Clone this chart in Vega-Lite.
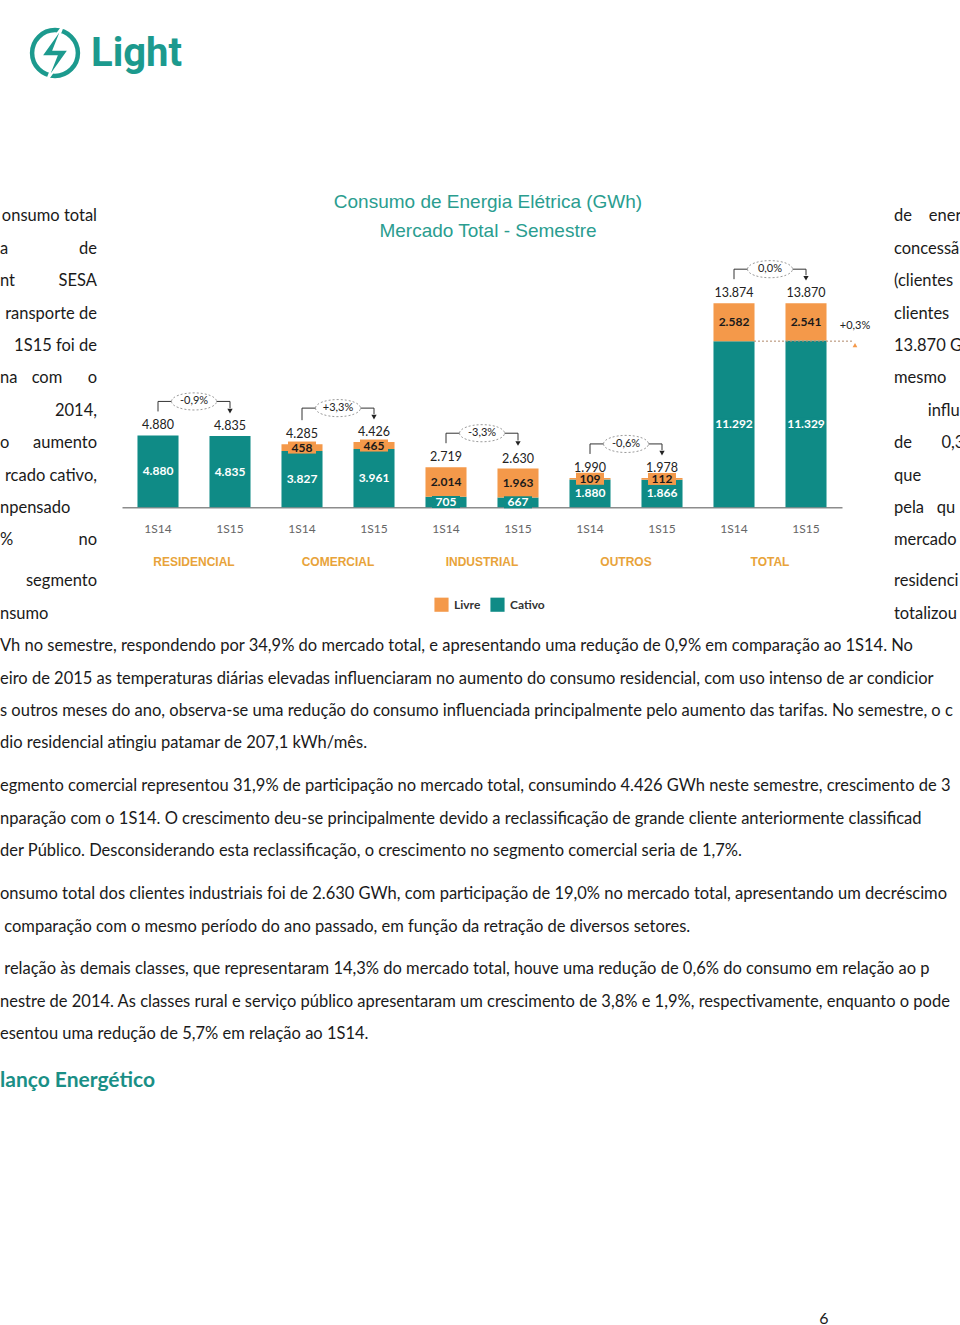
{
"$schema":"https://vega.github.io/schema/vega-lite/v6.json",
"padding":0,
"background":"white",
"config":{"view":{"stroke":null},"locale":{"number":{"decimal":",","thousands":".","grouping":[3],"currency":["R$ ",""]}},"text":{"font":"Lato"}},
"datasets":{
"vazio":[],
"barras":[
{"barra":"RESIDENCIAL|1S14","Cativo":4880,"Livre":0,"total":4880},
{"barra":"RESIDENCIAL|1S15","Cativo":4835,"Livre":0,"total":4835},
{"barra":"COMERCIAL|1S14","Cativo":3827,"Livre":458,"total":4285},
{"barra":"COMERCIAL|1S15","Cativo":3961,"Livre":465,"total":4426},
{"barra":"INDUSTRIAL|1S14","Cativo":705,"Livre":2014,"total":2719},
{"barra":"INDUSTRIAL|1S15","Cativo":667,"Livre":1963,"total":2630},
{"barra":"OUTROS|1S14","Cativo":1880,"Livre":109,"total":1990},
{"barra":"OUTROS|1S15","Cativo":1866,"Livre":112,"total":1978},
{"barra":"TOTAL|1S14","Cativo":11292,"Livre":2582,"total":13874},
{"barra":"TOTAL|1S15","Cativo":11329,"Livre":2541,"total":13870}
],
"grupos":[
{"grupo":"RESIDENCIAL","t14":4880,"t15":4835,"variacao":"-0,9%"},
{"grupo":"COMERCIAL","t14":4285,"t15":4426,"variacao":"+3,3%"},
{"grupo":"INDUSTRIAL","t14":2719,"t15":2630,"variacao":"-3,3%"},
{"grupo":"OUTROS","t14":1990,"t15":1978,"variacao":"-0,6%"},
{"grupo":"TOTAL","t14":13874,"t15":13870,"variacao":"0,0%"}
],
"cativo_total":[{"barra":"TOTAL|1S15","cativo14":11292,"variacao":"+0,3%"}],
"esq_a1":[
{"i":1,"l":"","r":"onsumo total"},
{"i":2,"l":"a","r":"de"}
],
"esq_a2":[
{"i":3,"l":"nt","r":"SESA"},
{"i":4,"l":"","r":"ransporte de"},
{"i":5,"l":"","r":"1S15 foi de"},
{"i":6,"l":"na","r":"com\u00a0\u00a0\u00a0\u00a0\u00a0\u00a0o"},
{"i":7,"l":"","r":"2014,"},
{"i":8,"l":"o","r":"aumento"},
{"i":9,"l":"","r":"rcado cativo,"},
{"i":10,"l":"npensado","r":""},
{"i":11,"l":"%","r":"no"}
],
"esq_b":[
{"i":1,"l":"","r":"segmento"},
{"i":2,"l":"nsumo","r":""}
],
"dir_a1":[
{"i":1,"t":"de\u00a0\u00a0\u00a0\u00a0ener"},
{"i":2,"t":"concessã"}
],
"dir_a2":[
{"i":3,"t":"(clientes"},
{"i":4,"t":"clientes"},
{"i":5,"t":"13.870 G"},
{"i":6,"t":"mesmo"},
{"i":7,"t":"\u200b\u00a0\u00a0\u00a0\u00a0\u00a0\u00a0\u00a0\u00a0influ"},
{"i":8,"t":"de\u00a0\u00a0\u00a0\u00a0\u00a0\u00a0\u00a00,3"},
{"i":9,"t":"que"},
{"i":10,"t":"pela\u00a0\u00a0\u00a0qu"},
{"i":11,"t":"mercado"}
],
"dir_b":[
{"i":1,"t":"residenci"},
{"i":2,"t":"totalizou"}
],
"p1":[
{"i":1,"t":"Vh no semestre, respondendo por 34,9% do mercado total, e apresentando uma redução de 0,9% em comparação ao 1S14. No"},
{"i":2,"t":"eiro de 2015 as temperaturas diárias elevadas influenciaram no aumento do consumo residencial, com uso intenso de ar condicior"},
{"i":3,"t":"s outros meses do ano, observa-se uma redução do consumo influenciada principalmente pelo aumento das tarifas. No semestre, o c"},
{"i":4,"t":"dio residencial atingiu patamar de 207,1 kWh/mês."}
],
"p2":[
{"i":1,"t":"egmento comercial representou 31,9% de participação no mercado total, consumindo 4.426 GWh neste semestre, crescimento de 3"},
{"i":2,"t":"nparação com o 1S14. O crescimento deu-se principalmente devido a reclassificação de grande cliente anteriormente classificad"},
{"i":3,"t":"der Público. Desconsiderando esta reclassificação, o crescimento no segmento comercial seria de 1,7%."}
],
"p3":[
{"i":1,"t":"onsumo total dos clientes industriais foi de 2.630 GWh, com participação de 19,0% no mercado total, apresentando um decréscimo"},
{"i":2,"t":"\u200b comparação com o mesmo período do ano passado, em função da retração de diversos setores."}
],
"p4":[
{"i":1,"t":"\u200b relação às demais classes, que representaram 14,3% do mercado total, houve uma redução de 0,6% do consumo em relação ao p"},
{"i":2,"t":"nestre de 2014. As classes rural e serviço público apresentaram um crescimento de 3,8% e 1,9%, respectivamente, enquanto o pode"},
{"i":3,"t":"esentou uma redução de 5,7% em relação ao 1S14."}
]
},
"columns":3,
"spacing":{"row":0,"column":25},
"bounds":"flush",
"concat":[
{"width":97,"height":200,"data":{"values":[{"marca":"Light"}]},
 "layer":[
  {"mark":{"type":"point","shape":"circle","x":55,"y":53,"size":2100,"filled":false,"stroke":"#1C9A8E","strokeWidth":4.5,"opacity":1},"encoding":{}},
  {"mark":{"type":"point","shape":"M0.3,-1L-0.5,0.12L0.05,0.12L-0.3,1L0.5,-0.12L-0.05,-0.12Z","x":55,"y":53,"size":3100,"filled":true,"fill":"#1C9A8E","stroke":"white","strokeWidth":2,"opacity":1},"encoding":{}},
  {"mark":{"type":"text","x":91,"y":54,"align":"left","baseline":"middle","font":"Roboto","fontWeight":"bold","fontSize":40,"color":"#1C9A8E"},"encoding":{"text":{"field":"marca"}}}
 ]},
{"width":747,"height":1,"data":{"name":"vazio"},"mark":{"type":"text"},"encoding":{"text":{"value":""}}},
{"width":66,"height":1,"data":{"name":"vazio"},"mark":{"type":"text"},"encoding":{"text":{"value":""}}},

{"width":97,"height":64.8,"data":{"name":"esq_a1"},
 "encoding":{"y":{"field":"i","type":"ordinal","scale":{"type":"band","paddingInner":0,"paddingOuter":0},"axis":null}},
 "layer":[
  {"mark":{"type":"text","x":0,"align":"left","baseline":"middle","fontSize":16.5,"font":"Lato","color":"#1a1a1a"},"encoding":{"text":{"field":"l"}}},
  {"mark":{"type":"text","x":"width","align":"right","baseline":"middle","fontSize":16.5,"font":"Lato","color":"#1a1a1a"},"encoding":{"text":{"field":"r"}}}
 ]},
{"width":747,"height":1,"data":{"name":"vazio"},"mark":{"type":"text"},"encoding":{"text":{"value":""}}},
{"width":66,"height":64.8,"data":{"name":"dir_a1"},
 "mark":{"type":"text","x":0,"align":"left","baseline":"middle","fontSize":16.5,"font":"Lato","color":"#1a1a1a","clip":true},
 "encoding":{"y":{"field":"i","type":"ordinal","scale":{"type":"band","paddingInner":0,"paddingOuter":0},"axis":null},"text":{"field":"t"}}},

{"width":97,"height":291.6,"data":{"name":"esq_a2"},
 "encoding":{"y":{"field":"i","type":"ordinal","scale":{"type":"band","paddingInner":0,"paddingOuter":0},"axis":null}},
 "layer":[
  {"mark":{"type":"text","x":0,"align":"left","baseline":"middle","fontSize":16.5,"font":"Lato","color":"#1a1a1a"},"encoding":{"text":{"field":"l"}}},
  {"mark":{"type":"text","x":"width","align":"right","baseline":"middle","fontSize":16.5,"font":"Lato","color":"#1a1a1a"},"encoding":{"text":{"field":"r"}}}
 ]},
{"width":720,"height":242.2,
 "title":{"text":["Consumo de Energia Elétrica (GWh)","Mercado Total - Semestre"],"font":"Liberation Sans","fontSize":19,"fontWeight":"normal","color":"#2A9D8F","lineHeight":29,"anchor":"middle","offset":18,"dx":6},
 "layer":[
  {"layer":[
    {"data":{"name":"barras"},
     "transform":[{"fold":["Cativo","Livre"],"as":["segmento","valor"]}],
     "layer":[
      {"mark":{"type":"bar"},
       "encoding":{
        "x":{"field":"barra","type":"nominal","sort":null,"title":null,"scale":{"paddingInner":0.43,"paddingOuter":0.215},
             "axis":{"labelExpr":"split(datum.value,'|')[1]","labelAngle":0,"ticks":false,"domainColor":"#8c8c8c","domainWidth":1.5,"labelPadding":16,"labelFontSize":12,"labelColor":"#666666","labelFont":"Lato"}},
        "y":{"field":"valor","type":"quantitative","stack":"zero","scale":{"domain":[0,16470],"nice":false},"axis":null},
        "color":{"field":"segmento","type":"nominal","scale":{"domain":["Livre","Cativo"],"range":["#F4994A","#0F8B86"]},
                 "legend":{"orient":"none","legendX":434,"legendY":597,"direction":"horizontal","title":null,"symbolType":"square","symbolSize":200,"symbolStrokeWidth":0,"labelFont":"Lato","labelFontSize":12,"labelFontWeight":"bold","labelColor":"#333333","columnPadding":9,"labelOffset":5}},
        "order":{"field":"segmento","sort":"ascending"}}},
      {"transform":[{"filter":"datum.valor > 0"},{"stack":"valor","groupby":["barra"],"sort":[{"field":"segmento","order":"ascending"}],"as":["v0","v1"]},{"calculate":"(datum.v0+datum.v1)/2","as":"vm"}],
       "encoding":{"x":{"field":"barra","type":"nominal","sort":null,"title":null},"y":{"field":"vm","type":"quantitative","scale":{"domain":[0,16470],"nice":false},"axis":null}},
       "layer":[
        {"mark":{"type":"point","shape":"M-1,-0.43H1V0.43H-1Z","size":784,"filled":true,"opacity":1,"strokeWidth":0},
         "encoding":{"fill":{"condition":{"test":"datum.segmento == 'Cativo'","value":"#0F8B86"},"value":"#F4994A"}}},
        {"mark":{"type":"text","fontWeight":"bold","fontSize":12,"baseline":"middle","font":"Lato"},
         "encoding":{"text":{"field":"valor","type":"quantitative","format":",.0f"},"color":{"condition":{"test":"datum.segmento == 'Cativo'","value":"#ffffff"},"value":"#1a1a1a"}}}
       ]},
      {"transform":[{"filter":"datum.segmento == 'Cativo'"}],
       "mark":{"type":"text","baseline":"bottom","dy":-3,"fontSize":12.5,"color":"#222222","font":"Lato"},
       "encoding":{"x":{"field":"barra","type":"nominal","sort":null,"title":null},"y":{"field":"total","type":"quantitative","scale":{"domain":[0,16470],"nice":false},"axis":null},"text":{"field":"total","type":"quantitative","format":",.0f"}}}
     ]},
    {"data":{"name":"cativo_total"},
     "encoding":{"x":{"field":"barra","type":"nominal","sort":null,"title":null,"bandPosition":0.5},"y":{"field":"cativo14","type":"quantitative","scale":{"domain":[0,16470],"nice":false},"axis":null}},
     "layer":[
      {"mark":{"type":"rule","xOffset":-52,"x2Offset":48,"strokeDash":[2,2],"color":"#B08868","strokeWidth":1},"encoding":{"x2":{"field":"barra","bandPosition":0.5}}},
      {"mark":{"type":"point","shape":"triangle-up","xOffset":49,"yOffset":4,"size":22,"filled":true,"color":"#F4994A","opacity":1},"encoding":{}},
      {"mark":{"type":"text","xOffset":49,"yOffset":-15,"fontSize":11,"color":"#222222","font":"Lato","baseline":"middle"},"encoding":{"text":{"field":"variacao"}}}
     ]}
   ]},
  {"data":{"name":"grupos"},
   "transform":[{"calculate":"max(datum.t14, datum.t15)","as":"tmax"}],
   "encoding":{"x":{"field":"grupo","type":"nominal","sort":null,"title":null,"bandPosition":0.5,"scale":{"paddingInner":0,"paddingOuter":0},
                    "axis":{"orient":"bottom","offset":49,"domain":false,"ticks":false,"labelPadding":0,"labelAngle":0,"labelFont":"Liberation Sans","labelFontWeight":"bold","labelFontSize":12,"labelColor":"#E8A33A"}}},
   "layer":[
    {"mark":{"type":"rule","xOffset":-36,"yOffset":-34,"y2Offset":-24,"color":"#333333","strokeWidth":1},
     "encoding":{"y":{"field":"tmax","type":"quantitative","scale":{"domain":[0,16470],"nice":false},"axis":null},"y2":{"field":"t14"}}},
    {"mark":{"type":"rule","xOffset":-36,"x2Offset":36,"yOffset":-34,"color":"#333333","strokeWidth":1},
     "encoding":{"x2":{"field":"grupo","bandPosition":0.5},"y":{"field":"tmax","type":"quantitative","scale":{"domain":[0,16470],"nice":false},"axis":null}}},
    {"mark":{"type":"rule","xOffset":36,"yOffset":-34,"y2Offset":-28,"color":"#333333","strokeWidth":1},
     "encoding":{"y":{"field":"tmax","type":"quantitative","scale":{"domain":[0,16470],"nice":false},"axis":null},"y2":{"field":"t15"}}},
    {"mark":{"type":"point","shape":"triangle-down","xOffset":36,"yOffset":-25,"size":28,"filled":true,"color":"#222222","opacity":1},
     "encoding":{"y":{"field":"t15","type":"quantitative","scale":{"domain":[0,16470],"nice":false},"axis":null}}},
    {"mark":{"type":"point","shape":"M-1,0A1,0.38,0,1,0,1,0A1,0.38,0,1,0,-1,0Z","yOffset":-34,"size":2025,"filled":true,"fill":"white","stroke":"#9a9a9a","strokeWidth":1,"strokeDash":[2,2],"opacity":1},
     "encoding":{"y":{"field":"tmax","type":"quantitative","scale":{"domain":[0,16470],"nice":false},"axis":null}}},
    {"mark":{"type":"text","yOffset":-34,"fontSize":11,"color":"#222222","baseline":"middle","font":"Lato"},
     "encoding":{"y":{"field":"tmax","type":"quantitative","scale":{"domain":[0,16470],"nice":false},"axis":null},"text":{"field":"variacao"}}}
   ]}
 ],
 "resolve":{"scale":{"x":"independent"},"axis":{"x":"independent"}}},
{"width":66,"height":291.6,"data":{"name":"dir_a2"},
 "mark":{"type":"text","x":0,"align":"left","baseline":"middle","fontSize":16.5,"font":"Lato","color":"#1a1a1a","clip":true},
 "encoding":{"y":{"field":"i","type":"ordinal","scale":{"type":"band","paddingInner":0,"paddingOuter":0},"axis":null},"text":{"field":"t"}}},

{"width":97,"height":73,"data":{"name":"esq_b"},
 "encoding":{"y":{"field":"i","type":"ordinal","scale":{"type":"band","paddingInner":0,"paddingOuter":0.1265,"align":1},"axis":null}},
 "layer":[
  {"mark":{"type":"text","x":0,"align":"left","baseline":"middle","fontSize":16.5,"font":"Lato","color":"#1a1a1a"},"encoding":{"text":{"field":"l"}}},
  {"mark":{"type":"text","x":"width","align":"right","baseline":"middle","fontSize":16.5,"font":"Lato","color":"#1a1a1a"},"encoding":{"text":{"field":"r"}}}
 ]},
{"width":747,"height":1,"data":{"name":"vazio"},"mark":{"type":"text"},"encoding":{"text":{"value":""}}},
{"width":66,"height":73,"data":{"name":"dir_b"},
 "mark":{"type":"text","x":0,"align":"left","baseline":"middle","fontSize":16.5,"font":"Lato","color":"#1a1a1a","clip":true},
 "encoding":{"y":{"field":"i","type":"ordinal","scale":{"type":"band","paddingInner":0,"paddingOuter":0.1265,"align":1},"axis":null},"text":{"field":"t"}}},

{"width":97,"height":129.6,"data":{"name":"p1"},
 "mark":{"type":"text","x":0,"align":"left","baseline":"middle","fontSize":16.5,"font":"Lato","color":"#1a1a1a"},
 "encoding":{"y":{"field":"i","type":"ordinal","scale":{"type":"band","paddingInner":0,"paddingOuter":0},"axis":null},"text":{"field":"t"}}},
{"width":747,"height":1,"data":{"name":"vazio"},"mark":{"type":"text"},"encoding":{"text":{"value":""}}},
{"width":66,"height":1,"data":{"name":"vazio"},"mark":{"type":"text"},"encoding":{"text":{"value":""}}},

{"width":97,"height":107.2,"data":{"name":"p2"},
 "mark":{"type":"text","x":0,"align":"left","baseline":"middle","fontSize":16.5,"font":"Lato","color":"#1a1a1a"},
 "encoding":{"y":{"field":"i","type":"ordinal","scale":{"type":"band","paddingInner":0,"paddingOuter":0.1543,"align":1},"axis":null},"text":{"field":"t"}}},
{"width":747,"height":1,"data":{"name":"vazio"},"mark":{"type":"text"},"encoding":{"text":{"value":""}}},
{"width":66,"height":1,"data":{"name":"vazio"},"mark":{"type":"text"},"encoding":{"text":{"value":""}}},

{"width":97,"height":74.8,"data":{"name":"p3"},
 "mark":{"type":"text","x":0,"align":"left","baseline":"middle","fontSize":16.5,"font":"Lato","color":"#1a1a1a"},
 "encoding":{"y":{"field":"i","type":"ordinal","scale":{"type":"band","paddingInner":0,"paddingOuter":0.1543,"align":1},"axis":null},"text":{"field":"t"}}},
{"width":747,"height":1,"data":{"name":"vazio"},"mark":{"type":"text"},"encoding":{"text":{"value":""}}},
{"width":66,"height":1,"data":{"name":"vazio"},"mark":{"type":"text"},"encoding":{"text":{"value":""}}},

{"width":97,"height":107.2,"data":{"name":"p4"},
 "mark":{"type":"text","x":0,"align":"left","baseline":"middle","fontSize":16.5,"font":"Lato","color":"#1a1a1a"},
 "encoding":{"y":{"field":"i","type":"ordinal","scale":{"type":"band","paddingInner":0,"paddingOuter":0.1543,"align":1},"axis":null},"text":{"field":"t"}}},
{"width":747,"height":1,"data":{"name":"vazio"},"mark":{"type":"text"},"encoding":{"text":{"value":""}}},
{"width":66,"height":1,"data":{"name":"vazio"},"mark":{"type":"text"},"encoding":{"text":{"value":""}}},

{"width":97,"height":59.6,"data":{"values":[{"t":"lanço Energético"}]},
 "mark":{"type":"text","x":0,"align":"left","baseline":"middle","fontSize":21,"fontWeight":"bold","font":"Lato","color":"#1A8F86"},
 "encoding":{"text":{"field":"t"}}},
{"width":747,"height":1,"data":{"name":"vazio"},"mark":{"type":"text"},"encoding":{"text":{"value":""}}},
{"width":66,"height":1,"data":{"name":"vazio"},"mark":{"type":"text"},"encoding":{"text":{"value":""}}},

{"width":97,"height":1,"data":{"name":"vazio"},"mark":{"type":"text"},"encoding":{"text":{"value":""}}},
{"width":747,"height":208.2,"data":{"values":[{"pagina":"6"}]},
 "mark":{"type":"text","x":702,"y":"height","align":"center","baseline":"middle","fontSize":16,"font":"Lato","color":"#1a1a1a"},
 "encoding":{"text":{"field":"pagina"}}},
{"width":66,"height":1,"data":{"name":"vazio"},"mark":{"type":"text"},"encoding":{"text":{"value":""}}}
]
}
